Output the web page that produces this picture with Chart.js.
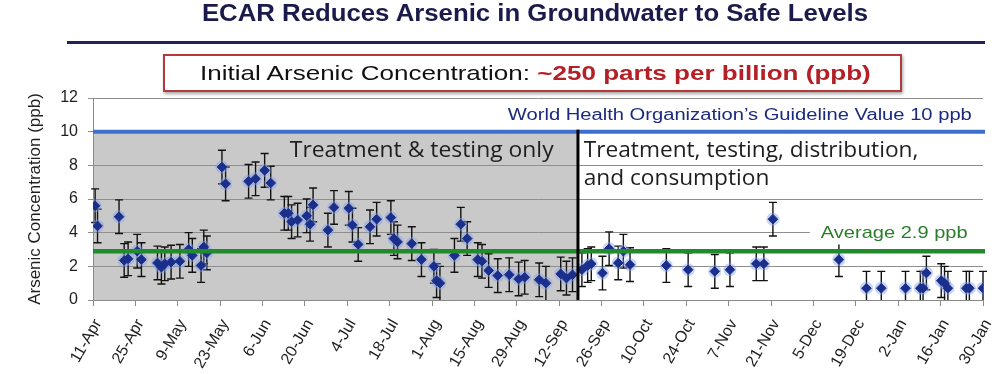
<!DOCTYPE html>
<html>
<head>
<meta charset="utf-8">
<script src="https://cdn.jsdelivr.net/npm/chart.js@4.4.0/dist/chart.umd.min.js"></script>
<style>
  body { margin: 0; background: #fff; }
  #wrap { position: relative; width: 1002px; height: 374px; overflow: hidden; font-family: Arial, "Liberation Sans", sans-serif; }
  #chart { position: absolute; left: 0; top: 0; }
  .title { position: absolute; left: 0; width: 1070px; top: -1px; line-height: 28px; text-align: center; font-weight: bold; font-size: 23px;
    color: #1b1b4b; transform: scaleX(1.12); transform-origin: 535px 0; }
  .rule { position: absolute; left: 67px; top: 41px; width: 918px; height: 3px; background: #23235a; }
  .box { position: absolute; left: 163px; top: 54px; width: 735px; height: 34px; border: 2px solid #b5383c; box-shadow: 1px 2px 3px rgba(0,0,0,0.35); background: #fff; }
  .box span.lead { position: absolute; left: 35px; top: 4px; font-size: 21px; line-height: 26px; color: #111; white-space: nowrap;
    transform: scaleX(1.24); transform-origin: 0 0; }
  .box b { color: #b52026; }
</style>
</head>
<body>
<div id="wrap">
  <canvas id="chart" width="1002" height="374"></canvas>
  <div class="title">ECAR Reduces Arsenic in Groundwater to Safe Levels</div>
  <div class="rule"></div>
  <div class="box"><span class="lead">Initial Arsenic Concentration: <b>~250 parts per billion (ppb)</b></span></div>
</div>
<script>
// sample day, counted from 11-Apr
const sampleDays = [0.7, 1.5, 8.6, 10.3, 11.6, 14.6, 16, 21.3, 22.6, 23.7, 25.8, 28.7, 31.6, 32.8, 35.7, 36.6, 37.6,
  42.6, 43.8, 51.4, 53.7, 56.7, 58.7, 63.2, 64.5, 65.6, 67.6, 70.6, 71.7, 72.7, 77.6, 79.6, 84.5, 85.7, 87.6,
  91.5, 93.7, 98.4, 99.4, 100.6, 105.3, 108.5, 112.6, 113.5, 114.6, 119.4, 121.5, 123.6, 127.1, 128.5, 130.7,
  133.7, 137.5, 140.6, 142.6, 147.4, 149.6, 154.5, 156.4, 158.4,
  161.5, 163.4, 164.6, 168.3, 170.5, 173.5, 175.2, 177.4, 189.4, 196.6, 205.4, 210.4, 219.1, 221.6, 224.6,
  246.4, 255.5, 260.4, 268.4, 273.3, 274.2, 275.3, 280.2, 281.3, 282.4, 288.5, 289.5, 294];
const arsenicPpb = [5.6, 4.4, 4.95, 2.35, 2.45, 2.9, 2.4, 2.2, 1.95, 2.15, 2.25, 2.3, 3.0, 2.65, 2.05, 3.15, 2.8,
  7.9, 6.9, 7.05, 7.2, 7.7, 6.95, 5.15, 5.15, 4.65, 4.75, 5.0, 4.5, 5.65, 4.15, 5.5, 5.45, 4.45, 3.3,
  4.35, 4.8, 4.9, 3.65, 3.45, 3.35, 2.4, 2.0, 1.15, 1.0, 2.65, 4.5, 3.65, 2.4, 2.3, 1.75,
  1.45, 1.5, 1.25, 1.35, 1.2, 1.0, 1.55, 1.3, 1.5,
  1.8, 2.05, 2.15, 1.6, 3.05, 2.2, 2.9, 2.1, 2.05, 1.8, 1.7, 1.8, 2.15, 2.15, 4.8,
  2.4, 0.7, 0.7, 0.7, 0.7, 0.7, 1.6, 1.15, 1.0, 0.7, 0.7, 0.7, 0.7];
const errorPpb = 1; // +/- on every sample
const tickLabels = ['11-Apr', '25-Apr', '9-May', '23-May', '6-Jun', '20-Jun', '4-Jul', '18-Jul', '1-Aug', '15-Aug',
  '29-Aug', '12-Sep', '26-Sep', '10-Oct', '24-Oct', '7-Nov', '21-Nov', '5-Dec', '19-Dec', '2-Jan', '16-Jan', '30-Jan'];
const whoLimit = 10;
const averagePpb = 2.9;
const distributionStartDay = 160.2;

const points = sampleDays.map((d, i) => ({ x: d, y: arsenicPpb[i] }));

// the source picture is stretched sideways, so its labels are too
function wideText(ctx, text, px, py, sx) {
  ctx.save();
  ctx.translate(px, py);
  ctx.scale(sx, 1);
  ctx.fillText(text, 0, 0);
  ctx.restore();
}

const backdrop = {
  id: 'backdrop',
  beforeDraw(chart) {
    const { ctx, scales: { x, y } } = chart;
    ctx.save();
    ctx.fillStyle = '#c9c9c9';
    const l = x.getPixelForValue(0), r = x.getPixelForValue(distributionStartDay);
    const t = y.getPixelForValue(whoLimit), b = y.getPixelForValue(0);
    ctx.fillRect(l, t, r - l, b - t);
    ctx.restore();
  }
};

const errorBars = {
  id: 'errorBars',
  beforeDatasetsDraw(chart) {
    const { ctx, scales: { x, y } } = chart;
    ctx.save();
    ctx.strokeStyle = '#111';
    ctx.lineWidth = 1.4;
    points.forEach(p => {
      const px = x.getPixelForValue(p.x);
      const top = y.getPixelForValue(p.y + errorPpb);
      const bot = y.getPixelForValue(Math.max(0, p.y - errorPpb));
      ctx.beginPath();
      ctx.moveTo(px, top); ctx.lineTo(px, bot);
      ctx.moveTo(px - 4, top); ctx.lineTo(px + 4, top);
      if (p.y - errorPpb > 0) { ctx.moveTo(px - 4, bot); ctx.lineTo(px + 4, bot); }
      ctx.stroke();
    });
    ctx.restore();
  }
};

const overlays = {
  id: 'overlays',
  afterDatasetsDraw(chart) {
    const { ctx, chartArea, scales: { x, y } } = chart;
    ctx.save();
    // WHO guideline
    ctx.strokeStyle = '#3d6fcc';
    ctx.lineWidth = 4;
    ctx.beginPath();
    ctx.moveTo(chartArea.left, y.getPixelForValue(whoLimit));
    ctx.lineTo(chartArea.right + 2, y.getPixelForValue(whoLimit));
    ctx.stroke();
    // average
    ctx.strokeStyle = '#218a2b';
    ctx.lineWidth = 4.5;
    ctx.beginPath();
    ctx.moveTo(chartArea.left, y.getPixelForValue(averagePpb));
    ctx.lineTo(chartArea.right + 2, y.getPixelForValue(averagePpb));
    ctx.stroke();
    // divider
    ctx.strokeStyle = '#000';
    ctx.lineWidth = 3;
    const dx = x.getPixelForValue(distributionStartDay);
    ctx.beginPath();
    ctx.moveTo(dx, y.getPixelForValue(whoLimit) - 2);
    ctx.lineTo(dx, y.getPixelForValue(0));
    ctx.stroke();

    ctx.textBaseline = 'middle';
    ctx.fillStyle = '#1b2a80';
    ctx.font = '16px Arial, "Liberation Sans"';
    ctx.textAlign = 'right';
    wideText(ctx, 'World Health Organization\u2019s Guideline Value 10 ppb', x.getPixelForValue(290.3), y.getPixelForValue(10.93), 1.26);

    ctx.textAlign = 'left';
    ctx.fillStyle = '#1e1e1e';
    ctx.font = '21px "Open Sans"';
    wideText(ctx, 'Treatment & testing only', x.getPixelForValue(65), y.getPixelForValue(8.85), 1.09);
    wideText(ctx, 'Treatment, testing, distribution,', x.getPixelForValue(162.1), y.getPixelForValue(8.85), 1.08);
    wideText(ctx, 'and consumption', x.getPixelForValue(162.1), y.getPixelForValue(7.2), 1.08);

    ctx.fillStyle = '#fff';
    const wl = x.getPixelForValue(236.8);
    ctx.fillRect(wl, y.getPixelForValue(4.5), chartArea.right + 4 - wl, y.getPixelForValue(3.3) - y.getPixelForValue(4.5));
    ctx.fillStyle = '#2b7d2b';
    ctx.font = '17px Arial, "Liberation Sans"';
    wideText(ctx, 'Average 2.9 ppb', x.getPixelForValue(240.4), y.getPixelForValue(3.98), 1.18);
    ctx.restore();
  }
};

new Chart(document.getElementById('chart'), {
  type: 'scatter',
  data: {
    datasets: [
      { data: points, pointStyle: 'rectRot', pointRadius: 4.8, backgroundColor: '#1a2e8a', borderColor: '#1a2e8a', borderWidth: 1 },
      { data: points, pointStyle: 'circle', pointRadius: 6.5, backgroundColor: 'rgba(130,160,235,0.45)', borderWidth: 0 }
    ]
  },
  options: {
    responsive: false,
    animation: false,
    devicePixelRatio: 1,
    layout: { padding: { top: 98, right: 19, left: 0, bottom: 0 } },
    plugins: { legend: { display: false }, tooltip: { enabled: false } },
    scales: {
      x: {
        type: 'linear', min: 0, max: 294,
        afterFit: s => { s.height = 74; s.paddingRight = 0; s.paddingLeft = 0; },
        border: { color: '#8a8a8a' },
        grid: { drawOnChartArea: false, tickLength: 6, color: '#8a8a8a' },
        ticks: {
          stepSize: 14, autoSkip: false, minRotation: 60, maxRotation: 60, color: '#1e1e1e',
          padding: 10, labelOffset: 5,
          font: { family: 'Arial, "Liberation Sans"', size: 16 },
          callback: (v, i) => tickLabels[i]
        }
      },
      y: {
        min: 0, max: 12,
        afterFit: s => { s.width = 93; },
        border: { color: '#8a8a8a' },
        grid: { color: '#8e8e8e', tickLength: 5 },
        ticks: { stepSize: 2, padding: 10, color: '#1e1e1e', font: { family: 'Arial, "Liberation Sans"', size: 16 } },
        title: { display: true, text: 'Arsenic Concentration (ppb)', color: '#1e1e1e', padding: { top: 25, bottom: 0 },
          font: { family: 'Arial, "Liberation Sans"', size: 17 } }
      }
    }
  },
  plugins: [backdrop, errorBars, overlays]
});
</script>
</body>
</html>
